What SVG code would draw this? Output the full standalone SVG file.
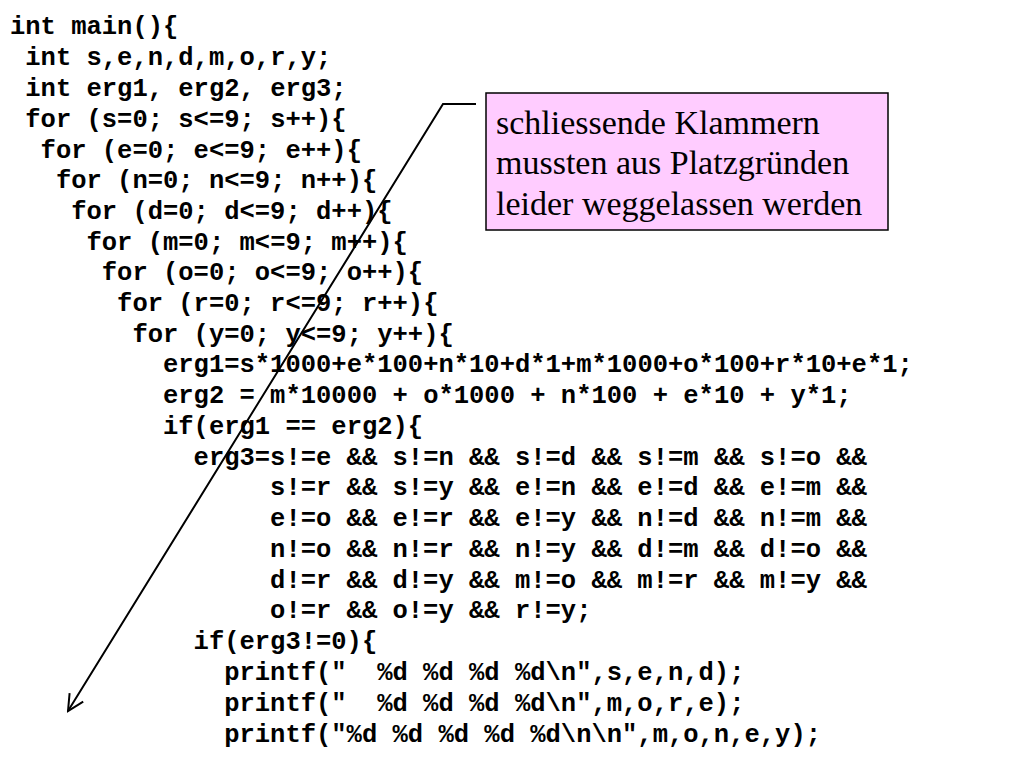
<svg xmlns="http://www.w3.org/2000/svg" width="1024" height="768" viewBox="0 0 1024 768">
<style>
.c{font-family:"Liberation Mono","Courier New",monospace;font-weight:bold;font-size:25.5px;fill:#000;white-space:pre}
.n{font-family:"Liberation Serif","Times New Roman",serif;font-size:34px;fill:#000}
</style>
<defs><marker id="a" viewBox="0 0 20 20" refX="18" refY="10" markerWidth="20" markerHeight="20" markerUnits="userSpaceOnUse" orient="auto"><path d="M2,2 L18,10 L2,18" fill="none" stroke="#000" stroke-width="2"/></marker></defs>
<rect width="1024" height="768" fill="#fff"/>
<g id="code">
<text class="c" x="10" y="34">int main(){</text>
<text class="c" x="25.3" y="65">int s,e,n,d,m,o,r,y;</text>
<text class="c" x="25.3" y="96">int erg1, erg2, erg3;</text>
<text class="c" x="25.3" y="127">for (s=0; s&lt;=9; s++){</text>
<text class="c" x="40.6" y="158">for (e=0; e&lt;=9; e++){</text>
<text class="c" x="55.9" y="188">for (n=0; n&lt;=9; n++){</text>
<text class="c" x="71.2" y="219">for (d=0; d&lt;=9; d++){</text>
<text class="c" x="86.5" y="250">for (m=0; m&lt;=9; m++){</text>
<text class="c" x="101.8" y="280">for (o=0; o&lt;=9; o++){</text>
<text class="c" x="117.1" y="311">for (r=0; r&lt;=9; r++){</text>
<text class="c" x="132.4" y="342">for (y=0; y&lt;=9; y++){</text>
<text class="c" x="163" y="372">erg1=s*1000+e*100+n*10+d*1+m*1000+o*100+r*10+e*1;</text>
<text class="c" x="163" y="403">erg2 = m*10000 + o*1000 + n*100 + e*10 + y*1;</text>
<text class="c" x="163" y="434">if(erg1 == erg2){</text>
<text class="c" x="193.6" y="465">erg3=s!=e &amp;&amp; s!=n &amp;&amp; s!=d &amp;&amp; s!=m &amp;&amp; s!=o &amp;&amp;</text>
<text class="c" x="270.1" y="495">s!=r &amp;&amp; s!=y &amp;&amp; e!=n &amp;&amp; e!=d &amp;&amp; e!=m &amp;&amp;</text>
<text class="c" x="270.1" y="526">e!=o &amp;&amp; e!=r &amp;&amp; e!=y &amp;&amp; n!=d &amp;&amp; n!=m &amp;&amp;</text>
<text class="c" x="270.1" y="557">n!=o &amp;&amp; n!=r &amp;&amp; n!=y &amp;&amp; d!=m &amp;&amp; d!=o &amp;&amp;</text>
<text class="c" x="270.1" y="588">d!=r &amp;&amp; d!=y &amp;&amp; m!=o &amp;&amp; m!=r &amp;&amp; m!=y &amp;&amp;</text>
<text class="c" x="270.1" y="618">o!=r &amp;&amp; o!=y &amp;&amp; r!=y;</text>
<text class="c" x="193.6" y="649">if(erg3!=0){</text>
<text class="c" x="224.2" y="680">printf("  %d %d %d %d\n",s,e,n,d);</text>
<text class="c" x="224.2" y="711">printf("  %d %d %d %d\n",m,o,r,e);</text>
<text class="c" x="224.2" y="742">printf("%d %d %d %d %d\n\n",m,o,n,e,y);</text>
</g>
<g id="connectors">
<path d="M476,104 L443,104 L68,711" fill="none" stroke="#000" stroke-width="2" marker-end="url(#a)"/>
</g>
<g id="note">
<rect x="486" y="93" width="402" height="137" fill="#ffccff" stroke="#000" stroke-width="1.5"/>
<text class="n" x="496" y="134">schliessende Klammern</text>
<text class="n" x="496" y="174">mussten aus Platzgründen</text>
<text class="n" x="496" y="215">leider weggelassen werden</text>
</g>
</svg>
